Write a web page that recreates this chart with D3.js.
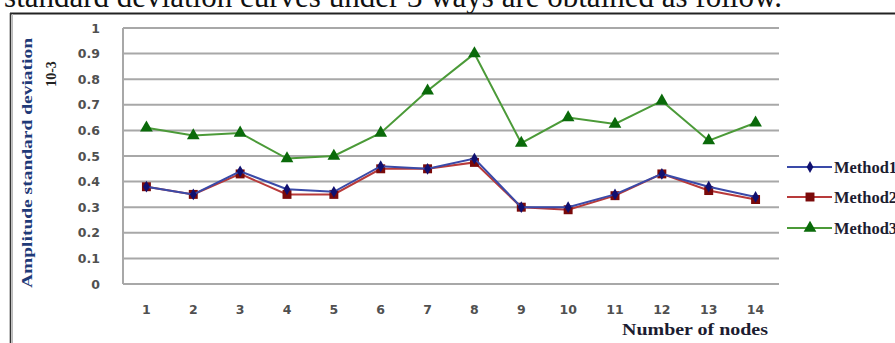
<!DOCTYPE html>
<html><head><meta charset="utf-8">
<script src="https://cdn.jsdelivr.net/npm/d3@7"></script>
<style>body{margin:0;background:#fff;overflow:hidden}svg{display:block}</style>
</head><body>
<svg id="c" width="895" height="343"></svg>
<script>
const nodes = [1,2,3,4,5,6,7,8,9,10,11,12,13,14];
const method1 = [0.38,0.35,0.44,0.37,0.36,0.46,0.45,0.49,0.30,0.30,0.35,0.43,0.38,0.34];
const method2 = [0.38,0.35,0.43,0.35,0.35,0.45,0.45,0.475,0.30,0.29,0.345,0.43,0.365,0.33];
const method3 = [0.61,0.58,0.59,0.49,0.50,0.59,0.755,0.90,0.55,0.65,0.625,0.715,0.56,0.63];
const yTicks = [0,0.1,0.2,0.3,0.4,0.5,0.6,0.7,0.8,0.9,1];
const seriesNames = ["Method1","Method2","Method3"];

const svg = d3.select("#c");
const L = 123, R = 779, T = 28, B = 284;
const x = d3.scaleBand().domain(nodes).range([L, R]);
const y = d3.scaleLinear().domain([0,1]).range([B, T]);

// caption text cut off at top
svg.append("text").attr("x", 782).attr("y", 7).attr("text-anchor","end")
  .attr("font-family","Liberation Serif, Times New Roman, serif").attr("font-size",31).attr("fill","#111")
  .text("standard deviation curves under 3 ways are obtained as follow.");
// frame lines
svg.append("line").attr("x1",10).attr("x2",895).attr("y1",13.5).attr("y2",13.5).attr("stroke","#222").attr("stroke-width",2);
svg.append("line").attr("x1",10.5).attr("x2",10.5).attr("y1",13).attr("y2",343).attr("stroke","#333").attr("stroke-width",1.6);
svg.append("line").attr("x1",12.5).attr("x2",12.5).attr("y1",14).attr("y2",343).attr("stroke","#bbb").attr("stroke-width",1);

// gridlines
svg.append("g").selectAll("line").data(yTicks).join("line")
  .attr("x1",L).attr("x2",R).attr("y1",d=>y(d)).attr("y2",d=>y(d))
  .attr("stroke","#a8a8a8").attr("stroke-width",2);
svg.append("line").attr("x1",L).attr("x2",L).attr("y1",T).attr("y2",B).attr("stroke","#a8a8a8").attr("stroke-width",2);

// y axis labels
const yAxis = d3.axisLeft(y).tickValues(yTicks).tickSize(0).tickPadding(0).tickFormat(d3.format("~g"));
const gy = svg.append("g").attr("transform",`translate(100,0)`).call(yAxis);
gy.select(".domain").remove();
gy.selectAll("text").attr("font-family","DejaVu Sans, sans-serif").attr("font-weight","bold")
  .attr("font-size",12.5).attr("fill","#505050");

// x axis labels
const xAxis = d3.axisBottom(x).tickSize(0).tickPadding(0);
const gx = svg.append("g").attr("transform",`translate(0,305)`).call(xAxis);
gx.select(".domain").remove();
gx.selectAll("text").attr("font-family","DejaVu Sans, sans-serif").attr("font-weight","bold")
  .attr("font-size",12.5).attr("fill","#505050");

const cx = (d,i) => x(nodes[i]) + x.bandwidth()/2;
const line = d3.line().x((d,i)=>cx(d,i)).y(d=>y(d));

const styles = [
  {data: method1, line:"#3a4aa8", mark:"#101070", sym: d3.symbolDiamond, size: 40},
  {data: method2, line:"#b83a3a", mark:"#7a0a0a", sym: d3.symbolSquare, size: 80},
  {data: method3, line:"#4b9a38", mark:"#0a6a0a", sym: d3.symbolTriangle, size: 70}
];
// draw order: method3, method2, method1 on top
[2,1,0].forEach(k => {
  const s = styles[k];
  svg.append("path").datum(s.data).attr("d", line).attr("fill","none")
    .attr("stroke", s.line).attr("stroke-width", 2);
  svg.append("g").selectAll("path").data(s.data).join("path")
    .attr("transform",(d,i)=>`translate(${cx(d,i)},${y(d)})`)
    .attr("d", d3.symbol().type(s.sym).size(s.size)).attr("fill", s.mark);
});

// legend
const legY = [167,197,228];
seriesNames.forEach((n,k) => {
  const s = styles[k];
  const g = svg.append("g").attr("transform",`translate(0,${legY[k]})`);
  g.append("line").attr("x1",787).attr("x2",832).attr("stroke",s.line).attr("stroke-width",2);
  g.append("path").attr("transform","translate(810,0)").attr("d", d3.symbol().type(s.sym).size(s.size)).attr("fill",s.mark);
  g.append("text").attr("x",834).attr("y",6).attr("font-family","Liberation Serif, serif").attr("font-weight","bold")
    .attr("font-size",16).attr("fill","#1c1c30").attr("textLength",63).attr("lengthAdjust","spacingAndGlyphs").text(n);
});

// axis titles
svg.append("text").attr("transform","translate(32,163) rotate(-90)").attr("text-anchor","middle")
  .attr("font-family","Liberation Serif, serif").attr("font-weight","bold").attr("font-size",15.5)
  .attr("fill","#1f3a78").attr("textLength",250).attr("lengthAdjust","spacingAndGlyphs")
  .text("Amplitude standard deviation");
svg.append("text").attr("transform","translate(56,74) rotate(-90)").attr("text-anchor","middle")
  .attr("font-family","Liberation Serif, serif").attr("font-weight","bold").attr("font-size",14)
  .attr("fill","#222").text("10-3");
svg.append("text").attr("x",695).attr("y",335).attr("text-anchor","middle")
  .attr("font-family","Liberation Serif, serif").attr("font-weight","bold").attr("font-size",17)
  .attr("fill","#1c1c30").attr("textLength",146).attr("lengthAdjust","spacingAndGlyphs")
  .text("Number of nodes");
</script>
</body></html>
